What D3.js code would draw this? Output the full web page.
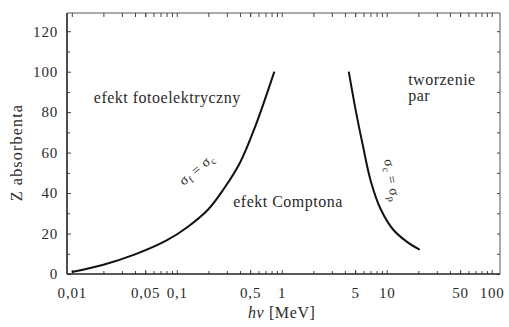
<!DOCTYPE html>
<html>
<head>
<meta charset="utf-8">
<script src="https://cdn.jsdelivr.net/npm/d3@7"></script>
<style>
  html, body { margin: 0; padding: 0; background: #fff; }
  svg { display: block; font-family: 'Liberation Serif', 'Times New Roman', serif; }
</style>
</head>
<body>
<div id="chart"></div>
<script>
// energy axis (MeV) ticks and labels
const xTickValues = [0.01, 0.05, 0.1, 0.5, 1, 5, 10, 50, 100];
const xTickLabels = ['0,01', '0,05', '0,1', '0,5', '1', '5', '10', '50', '100'];
const yTickValues = [0, 20, 40, 60, 80, 100, 120];

// boundary photoelectric / Compton (sigma_f = sigma_c)
const photoE = [0.01, 0.02, 0.04, 0.08, 0.125, 0.2, 0.28, 0.4, 0.56, 0.85];
const photoZ = [1, 4.6, 9.7, 16.6, 23, 32, 42, 55, 73, 100];

// boundary Compton / pair production (sigma_c = sigma_p)
const pairE = [4.35, 5.06, 5.9, 7.04, 8.77, 11.5, 15.5, 20.6];
const pairZ = [100, 81, 64, 46, 32, 22, 16, 12];

const width = 509;
const height = 327;
const MARGIN = { top: 13, right: 9, bottom: 53, left: 67 };
const innerW = width - MARGIN.left - MARGIN.right;
const innerH = height - MARGIN.top - MARGIN.bottom;

const svg = d3.select('#chart').append('svg')
  .attr('width', width)
  .attr('height', height);

const g = svg.append('g').attr('transform', `translate(${MARGIN.left},${MARGIN.top})`);

const x = d3.scaleLog().domain([0.009, 120]).range([0, innerW]);
const y = d3.scaleLinear().domain([0, 129]).range([innerH, 0]);

// minor log ticks 2..9 of every decade
const minorX = [];
[0.01, 0.1, 1, 10].forEach((dec) => {
  for (let k = 2; k <= 9; k++) minorX.push(dec * k);
});
const minorY = d3.range(10, 130, 20);

const textColor = '#2a2a2a';

function styleAxis(axisG) {
  axisG.select('.domain').remove();
  axisG.selectAll('line').style('stroke', '#444').style('stroke-width', 1);
  axisG.selectAll('text')
    .style('fill', textColor)
    .style('font-size', '15px')
    .style('font-family', "'Liberation Serif', 'Times New Roman', serif")
    .style('letter-spacing', '0.8px');
}

// bottom axis
const xAxisG = g.append('g').attr('transform', `translate(0,${innerH})`)
  .call(d3.axisBottom(x).tickValues(xTickValues)
    .tickFormat((d, i) => xTickLabels[i]).tickSizeInner(-4).tickSizeOuter(0).tickPadding(13));
styleAxis(xAxisG);

g.append('g').attr('transform', `translate(0,${innerH})`)
  .call(d3.axisBottom(x).tickValues(minorX).tickFormat('').tickSizeInner(-3).tickSizeOuter(0))
  .call(styleAxis);

// top axis (ticks only)
g.append('g')
  .call(d3.axisTop(x).tickValues(xTickValues.concat(minorX)).tickFormat('').tickSizeInner(-4).tickSizeOuter(0))
  .call(styleAxis);

// left axis
const yAxisG = g.append('g')
  .call(d3.axisLeft(y).tickValues(yTickValues).tickSizeInner(-4).tickSizeOuter(0).tickPadding(9));
styleAxis(yAxisG);

g.append('g')
  .call(d3.axisLeft(y).tickValues(minorY).tickFormat('').tickSizeInner(-3).tickSizeOuter(0))
  .call(styleAxis);

// right axis (ticks only)
g.append('g').attr('transform', `translate(${innerW},0)`)
  .call(d3.axisRight(y).tickValues(yTickValues.concat(minorY)).tickFormat('').tickSizeInner(-3).tickSizeOuter(0))
  .call(styleAxis);

// frame: bottom and left heavier than top and right
g.append('line').attr('x1', 0).attr('x2', innerW).attr('y1', innerH).attr('y2', innerH)
  .style('stroke', '#222').style('stroke-width', 1.6);
g.append('line').attr('x1', 0).attr('x2', 0).attr('y1', 0).attr('y2', innerH)
  .style('stroke', '#222').style('stroke-width', 1.6);
g.append('line').attr('x1', 0).attr('x2', innerW).attr('y1', 0).attr('y2', 0)
  .style('stroke', '#555').style('stroke-width', 1);
g.append('line').attr('x1', innerW).attr('x2', innerW).attr('y1', 0).attr('y2', innerH)
  .style('stroke', '#555').style('stroke-width', 1);

// boundary curves
const line = d3.line()
  .x((d) => x(d[0]))
  .y((d) => y(d[1]))
  .curve(d3.curveCatmullRom.alpha(0.5));

g.append('path')
  .datum(photoE.map((e, i) => [e, photoZ[i]]))
  .attr('d', line)
  .style('fill', 'none').style('stroke', '#111').style('stroke-width', 2);

g.append('path')
  .datum(pairE.map((e, i) => [e, pairZ[i]]))
  .attr('d', line)
  .style('fill', 'none').style('stroke', '#111').style('stroke-width', 2);

// region labels
const labels = g.append('g')
  .style('fill', textColor)
  .style('font-size', '16px')
  .style('letter-spacing', '0.5px');

labels.append('text').attr('x', x(0.0162)).attr('y', y(84.5)).text('efekt fotoelektryczny');
labels.append('text').attr('x', x(0.345)).attr('y', y(33)).text('efekt Comptona');
labels.append('text').attr('x', x(16)).attr('y', y(93.5)).text('tworzenie');
labels.append('text').attr('x', x(16)).attr('y', y(85.5)).text('par');

// curve labels
const lblA = labels.append('text')
  .attr('transform', `translate(${x(0.165)},${y(50)}) rotate(-40)`)
  .style('font-size', '14px')
  .attr('text-anchor', 'middle');
lblA.append('tspan').text('σ');
lblA.append('tspan').attr('dy', 3).style('font-size', '10px').text('f');
lblA.append('tspan').attr('dy', -3).text(' = σ');
lblA.append('tspan').attr('dy', 3).style('font-size', '10px').text('c');

const lblB = labels.append('text')
  .attr('transform', `translate(${x(10.2)},${y(46)}) rotate(80)`)
  .style('font-size', '14px')
  .attr('text-anchor', 'middle');
lblB.append('tspan').text('σ');
lblB.append('tspan').attr('dy', 3).style('font-size', '10px').text('c');
lblB.append('tspan').attr('dy', -3).text(' = σ');
lblB.append('tspan').attr('dy', 3).style('font-size', '10px').text('p');

// axis titles
svg.append('text')
  .attr('transform', `translate(22,${MARGIN.top + y(60)}) rotate(-90)`)
  .attr('text-anchor', 'middle')
  .style('fill', textColor)
  .style('font-size', '16px')
  .style('letter-spacing', '1.2px')
  .text('Z absorbenta');

const xTitle = svg.append('text')
  .attr('x', MARGIN.left + x(1))
  .attr('y', 318)
  .attr('text-anchor', 'middle')
  .style('fill', textColor)
  .style('font-size', '16px')
  .style('letter-spacing', '0.6px');
xTitle.append('tspan').style('font-style', 'italic').text('hν');
xTitle.append('tspan').text(' [MeV]');
</script>
</body>
</html>
